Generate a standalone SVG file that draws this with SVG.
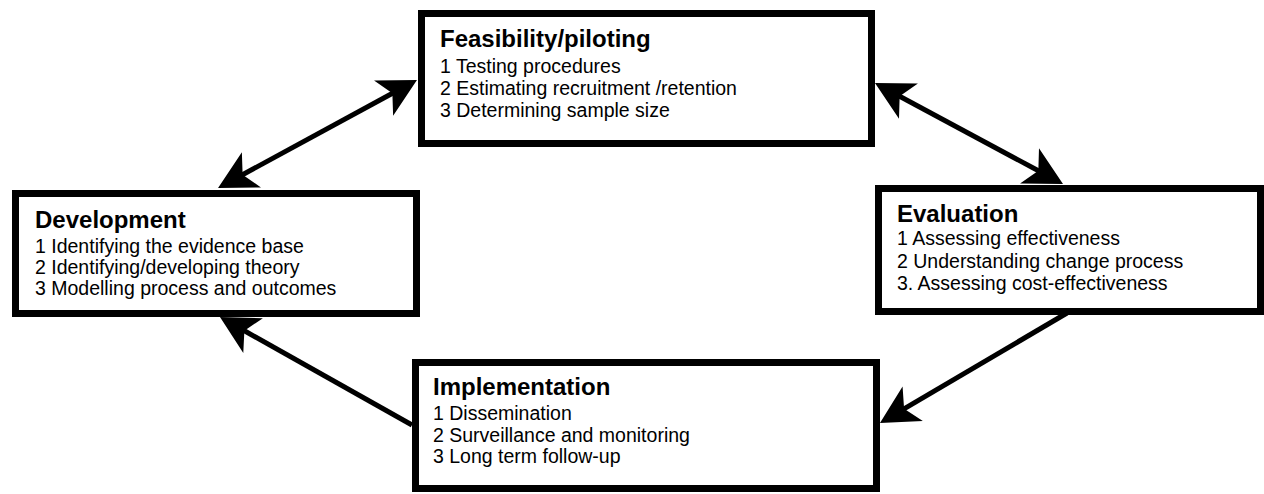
<svg xmlns="http://www.w3.org/2000/svg" width="1264" height="494" viewBox="0 0 1264 494">
<style>
.box{fill:#fff;stroke:#000;stroke-width:7}
.t{font-family:"Liberation Sans",Arial,sans-serif;font-weight:bold;font-size:24px;fill:#000}
.i{font-family:"Liberation Sans",Arial,sans-serif;font-size:19.5px;fill:#000}
.c{stroke:#000;stroke-width:5;fill:none}
</style>
<defs>
<marker id="ah" markerUnits="userSpaceOnUse" markerWidth="60" markerHeight="60" viewBox="-30 -30 60 60" refX="0" refY="0" orient="auto-start-reverse" overflow="visible">
<path d="M20,0 L-18,-20 L-8,0 L-18,20 Z" fill="#000"/>
</marker>
</defs>
<g id="connectors">
<line class="c" x1="235.6" y1="178.5" x2="399.4" y2="89.5" marker-start="url(#ah)" marker-end="url(#ah)"/>
<line class="c" x1="892.6" y1="92.5" x2="1045.4" y2="174.5" marker-start="url(#ah)" marker-end="url(#ah)"/>
<line class="c" x1="1067" y1="313" x2="897.2" y2="412.9" marker-end="url(#ah)"/>
<line class="c" x1="412" y1="425" x2="237.4" y2="326.8" marker-end="url(#ah)"/>
</g>
<g id="feasibility">
<rect class="box" x="421.5" y="13.5" width="450" height="130"/>
<text class="t" x="440" y="47">Feasibility/piloting</text>
<text class="i" x="440" y="73">1 Testing procedures</text>
<text class="i" x="440" y="95">2 Estimating recruitment /retention</text>
<text class="i" x="440" y="117">3 Determining sample size</text>
</g>
<g id="development">
<rect class="box" x="15.5" y="193.5" width="401" height="120"/>
<text class="t" x="35" y="228">Development</text>
<text class="i" x="35" y="253">1 Identifying the evidence base</text>
<text class="i" x="35" y="274">2 Identifying/developing theory</text>
<text class="i" x="35" y="295">3 Modelling process and outcomes</text>
</g>
<g id="evaluation">
<rect class="box" x="878.5" y="188.5" width="382" height="123"/>
<text class="t" x="897" y="222">Evaluation</text>
<text class="i" x="897" y="245">1 Assessing effectiveness</text>
<text class="i" x="897" y="268">2 Understanding change process</text>
<text class="i" x="897" y="290">3. Assessing cost-effectiveness</text>
</g>
<g id="implementation">
<rect class="box" x="415.5" y="362.5" width="461" height="126"/>
<text class="t" x="433" y="395">Implementation</text>
<text class="i" x="433" y="420">1 Dissemination</text>
<text class="i" x="433" y="442">2 Surveillance and monitoring</text>
<text class="i" x="433" y="463">3 Long term follow-up</text>
</g>
</svg>
